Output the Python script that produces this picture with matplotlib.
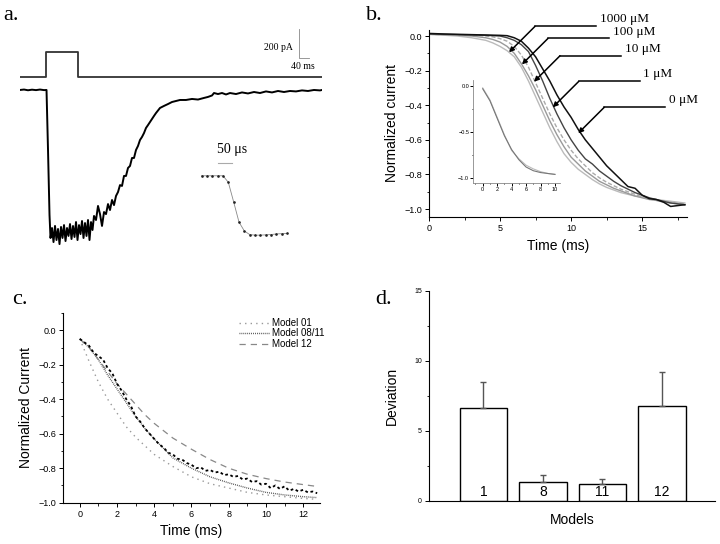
import numpy as np
import matplotlib
matplotlib.use("Agg")
import matplotlib.pyplot as plt
from matplotlib.ticker import MultipleLocator

plt.rcParams['font.family'] = ['Liberation Sans', 'DejaVu Sans']
SERIF = ['Liberation Serif', 'DejaVu Serif']

# ---- panel a: whole-cell current (ms, pA) ----
trace_t = [0, 16, 32, 48, 64, 80, 96, 106, 112, 118, 122, 128, 134, 140, 146, 152, 158, 164,
           170, 176, 182, 188, 194, 200, 206, 212, 218, 224, 230, 236, 242, 248, 254, 260, 266,
           272, 278, 284, 290, 296, 304, 312, 320, 328, 336, 344, 352, 360, 368, 376, 384, 392,
           400, 408, 416, 424, 432, 440, 448, 456, 464, 472, 480, 488, 496, 504, 512, 520, 528,
           536, 544, 560, 576, 592, 608, 624, 640, 664, 688, 712, 736, 752, 768, 776, 792, 808,
           824, 840, 864, 888, 912, 936, 960, 984, 1008, 1032, 1056, 1080, 1104, 1128, 1152,
           1176, 1200, 1208]
trace_i = [0, 3, -2, 2, -1, 3, -1, 0, -414, -863, -1021, -952, -1049, -938, -1035, -959, -1063,
           -945, -1021, -932, -1042, -952, -1007, -925, -1028, -938, -1014, -911, -1035, -932,
           -994, -904, -1021, -918, -1007, -897, -1035, -911, -966, -869, -897, -800, -856, -938,
           -842, -856, -787, -828, -759, -794, -731, -704, -656, -662, -593, -593, -538, -524,
           -469, -469, -414, -386, -345, -324, -297, -262, -242, -221, -200, -179, -159, -124,
           -110, -97, -83, -76, -69, -69, -62, -66, -55, -48, -38, -21, -28, -21, -31, -21, -28,
           -17, -24, -14, -21, -10, -17, -7, -14, -7, -10, -3, -7, 0, -3, 0]
pulse_t = [0, 103, 103, 233, 233, 1208]
pulse_on = [0, 0, 1, 1, 0, 0]

# inset of panel a: onset of solution exchange (us, normalized)
fast_t = [0, 20, 40, 60, 80, 100, 120, 140, 160, 180, 200, 220, 240, 260, 280, 300, 320]
fast_v = [0, 0, 0, 0, 0, -0.11, -0.44, -0.78, -0.93, -0.99, -1.0, -1.0, -0.995, -0.99, -0.98,
          -0.975, -0.97]

# ---- panel b: normalized currents at several concentrations ----
t_b = [0, 1, 2, 3, 4, 4.5, 5, 5.5, 6, 6.5, 7, 7.5, 8, 8.5, 9, 9.5, 10, 10.5, 11, 11.5, 12,
       12.5, 13, 13.5, 14, 14.5, 15, 15.5, 16, 16.5, 17, 17.5, 18]
cur_0 = [0.015, 0.012, 0.01, 0.008, 0.006, 0.005, 0.004, 0.002, -0.01, -0.03, -0.07, -0.12,
         -0.19, -0.26, -0.34, -0.41, -0.47, -0.54, -0.6, -0.65, -0.7, -0.75, -0.79, -0.83,
         -0.87, -0.88, -0.92, -0.94, -0.945, -0.96, -0.985, -0.98, -0.975]
cur_1 = [0.012, 0.01, 0.008, 0.006, 0.004, 0.002, 0.0, -0.01, -0.025, -0.05, -0.09, -0.17,
         -0.26, -0.36, -0.45, -0.53, -0.6, -0.66, -0.71, -0.74, -0.78, -0.81, -0.84, -0.865,
         -0.885, -0.905, -0.92, -0.935, -0.945, -0.955, -0.965, -0.97, -0.975]
cur_10 = [0.01, 0.008, 0.006, 0.004, 0.0, -0.005, -0.015, -0.03, -0.06, -0.11, -0.18, -0.27,
          -0.36, -0.45, -0.53, -0.6, -0.66, -0.71, -0.75, -0.79, -0.82, -0.845, -0.865,
          -0.885, -0.9, -0.915, -0.93, -0.94, -0.95, -0.955, -0.96, -0.965, -0.97]
cur_100 = [0.01, 0.008, 0.005, 0.0, -0.01, -0.02, -0.035, -0.06, -0.1, -0.16, -0.23, -0.31,
           -0.4, -0.49, -0.57, -0.64, -0.7, -0.74, -0.78, -0.81, -0.84, -0.86, -0.88, -0.895,
           -0.91, -0.925, -0.935, -0.945, -0.95, -0.96, -0.965, -0.97, -0.975]
cur_1000 = [0.01, 0.005, 0.0, -0.01, -0.025, -0.04, -0.06, -0.085, -0.12, -0.18, -0.26, -0.35,
            -0.44, -0.53, -0.61, -0.68, -0.73, -0.77, -0.8, -0.83, -0.855, -0.875, -0.89,
            -0.905, -0.915, -0.925, -0.93, -0.94, -0.945, -0.95, -0.955, -0.96, -0.965]
conc_labels = ['1000 \u03bcM', '100 \u03bcM', '10 \u03bcM', '1 \u03bcM', '0 \u03bcM']
arrow_tip = [(5.63, -0.094), (6.54, -0.164), (7.39, -0.264), (8.71, -0.412), (10.5, -0.562)]

t_inset = [0, 1, 2, 3, 4, 5, 6, 7, 8, 9, 10]
inset_a = [-0.02, -0.15, -0.34, -0.53, -0.7, -0.79, -0.86, -0.9, -0.93, -0.95, -0.96]
inset_b = [-0.03, -0.16, -0.35, -0.54, -0.69, -0.8, -0.88, -0.92, -0.94, -0.95, -0.96]

# ---- panel c: model fits ----
t_c = [0, 0.5, 1, 1.5, 2, 2.5, 3, 3.5, 4, 5, 6, 7, 8, 9, 10, 11, 12, 12.7]
model_01 = [-0.05, -0.18, -0.3, -0.4, -0.48, -0.56, -0.62, -0.67, -0.72, -0.79, -0.85, -0.89,
            -0.915, -0.94, -0.955, -0.965, -0.975, -0.98]
model_0811 = [-0.05, -0.1, -0.17, -0.26, -0.34, -0.42, -0.5, -0.57, -0.63, -0.74, -0.8, -0.85,
              -0.885, -0.915, -0.94, -0.955, -0.965, -0.97]
model_12 = [-0.05, -0.1, -0.17, -0.24, -0.31, -0.37, -0.43, -0.49, -0.54, -0.625, -0.69, -0.75,
            -0.8, -0.835, -0.86, -0.88, -0.895, -0.905]
t_data = [0, 0.25, 0.5, 0.75, 1.0, 1.25, 1.5, 1.75, 2.0, 2.25, 2.5, 2.75, 3.0, 3.25, 3.5,
          3.75, 4.0, 4.25, 4.5, 4.75, 5.0, 5.25, 5.5, 5.75, 6.0, 6.25, 6.5, 6.75, 7.0, 7.25,
          7.5, 7.75, 8.0, 8.25, 8.5, 8.75, 9.0, 9.25, 9.5, 9.75, 10.0, 10.25, 10.5, 10.75,
          11.0, 11.25, 11.5, 11.75, 12.0, 12.25, 12.5, 12.75]
data_c = [-0.05, -0.07, -0.09, -0.13, -0.15, -0.17, -0.22, -0.25, -0.31, -0.35, -0.40, -0.44,
          -0.50, -0.53, -0.57, -0.60, -0.63, -0.66, -0.68, -0.71, -0.72, -0.745, -0.75, -0.77,
          -0.78, -0.80, -0.795, -0.815, -0.81, -0.825, -0.82, -0.84, -0.835, -0.85, -0.845,
          -0.865, -0.86, -0.88, -0.875, -0.895, -0.89, -0.915, -0.90, -0.92, -0.905, -0.93,
          -0.92, -0.935, -0.925, -0.94, -0.935, -0.945]

# ---- panel d: deviation per model ----
models = ['1', '8', '11', '12']
deviation = [6.6, 1.36, 1.2, 6.8]
dev_err = [1.9, 0.44, 0.32, 2.4]


def style_axes(ax, size=6.5):
    for s in ['top', 'right']:
        ax.spines[s].set_visible(False)
    for s in ['left', 'bottom']:
        ax.spines[s].set_linewidth(0.8)
    ax.tick_params(which='major', direction='out', length=3, width=0.7, labelsize=size, pad=2)
    ax.tick_params(which='minor', direction='out', length=1.8, width=0.6)


fig = plt.figure(figsize=(7.2, 5.44), dpi=100)

# panel a
ax_a = fig.add_axes([0.0278, 0.5404, 0.4194, 0.4136])
ax_a.axis('off')
ax_a.set_xlim(0, 1208)
ax_a.set_ylim(-1104, 448)
ax_a.plot(trace_t, trace_i, color='black', lw=1.4)
ax_a.plot(pulse_t, 88 + 176 * np.array(pulse_on), color='#333333', lw=1.3)
ax_a.plot([1117, 1117, 1157], [421, 223, 223], color='#888888', lw=0.6)
ax_a.text(1092, 290, '200 pA', ha='right', va='center', fontsize=7, family=SERIF)
ax_a.text(1132, 162, '40 ms', ha='center', va='center', fontsize=7, family=SERIF)

ax_ai = fig.add_axes([0.2708, 0.5588, 0.1319, 0.1838])
ax_ai.axis('off')
ax_ai.set_xlim(-25, 331)
ax_ai.set_ylim(-1.082, 0.602)
ax_ai.plot(fast_t, fast_v, color='#888888', lw=0.6, marker='.', ms=1.8, mfc='#222222',
           mec='#222222')
ax_ai.plot([62, 112], [0.214, 0.214], color='#aaaaaa', lw=0.8)
ax_ai.text(58, 0.45, '50 \u03bcs', ha='left', va='center', fontsize=10, family=SERIF)

# panel b
ax_b = fig.add_axes([0.5958, 0.6011, 0.3583, 0.3438])
style_axes(ax_b)
ax_b.plot(t_b, cur_1000, color='#bbbbbb', lw=1.0)
ax_b.plot(t_b, cur_100, color='#999999', lw=1.0)
ax_b.plot(t_b, cur_10, color='#aaaaaa', lw=1.0, ls=(0, (3, 1.5)))
ax_b.plot(t_b, cur_1, color='#444444', lw=1.0)
ax_b.plot(t_b, cur_0, color='#111111', lw=1.1)
ax_b.set_xlim(0, 18.15)
ax_b.set_ylim(-1.046, 0.035)
ax_b.xaxis.set_major_locator(MultipleLocator(5))
ax_b.xaxis.set_minor_locator(MultipleLocator(2.5))
ax_b.yaxis.set_major_locator(MultipleLocator(0.2))
ax_b.yaxis.set_minor_locator(MultipleLocator(0.1))
ax_b.set_xlabel('Time (ms)', fontsize=10, labelpad=4)
ax_b.set_ylabel('Normalized current', fontsize=10, labelpad=4)
for lab, tip in zip(conc_labels, arrow_tip):
    x0 = tip[0] + 1.83
    y0 = tip[1] + 0.15
    ax_b.annotate('', xy=tip, xytext=(x0, y0),
                  arrowprops=dict(arrowstyle='-|>', color='black', lw=1.1, mutation_scale=7,
                                  shrinkA=0, shrinkB=0))
    ax_b.plot([x0, x0 + 4.3], [y0, y0], color='black', lw=1.1, clip_on=False)
    ax_b.text(x0 + 4.55, y0 + 0.04, lab, fontsize=9.5, family=SERIF, ha='left', va='center')

ax_bi = fig.add_axes([0.6574, 0.6642, 0.1204, 0.1888])
ax_bi.patch.set_alpha(0)
style_axes(ax_bi, size=4)
ax_bi.tick_params(which='major', length=2, pad=1)
ax_bi.tick_params(which='minor', length=1)
ax_bi.plot(t_inset, inset_a, color='#bbbbbb', lw=0.8)
ax_bi.plot(t_inset, inset_b, color='#777777', lw=0.8)
ax_bi.set_xlim(-1.3, 10.7)
ax_bi.set_ylim(-1.05, 0.066)
ax_bi.xaxis.set_major_locator(MultipleLocator(2))
ax_bi.xaxis.set_minor_locator(MultipleLocator(1))
ax_bi.yaxis.set_major_locator(MultipleLocator(0.5))
ax_bi.yaxis.set_minor_locator(MultipleLocator(0.25))
ax_bi.spines['left'].set_linewidth(0.6)
ax_bi.spines['bottom'].set_linewidth(0.6)
ax_bi.spines['left'].set_color('#888888')
ax_bi.spines['bottom'].set_color('#888888')

# panel c
ax_c = fig.add_axes([0.0875, 0.0759, 0.3569, 0.3487])
style_axes(ax_c)
ax_c.plot(t_c, model_01, color='#999999', lw=1.0, ls=(0, (1, 3)), label='Model 01')
ax_c.plot(t_c, model_0811, color='#444444', lw=1.0, ls=(0, (0.6, 0.8)), label='Model 08/11')
ax_c.plot(t_c, model_12, color='#888888', lw=0.9, ls=(0, (5, 4)), label='Model 12')
ax_c.plot(t_data, data_c, color='black', lw=1.3, ls=(0, (1.5, 1.5)))
ax_c.set_xlim(-0.9, 12.9)
ax_c.set_ylim(-1.0, 0.1)
ax_c.xaxis.set_major_locator(MultipleLocator(2))
ax_c.xaxis.set_minor_locator(MultipleLocator(1))
ax_c.yaxis.set_major_locator(MultipleLocator(0.2))
ax_c.yaxis.set_minor_locator(MultipleLocator(0.1))
ax_c.set_xlabel('Time (ms)', fontsize=10, labelpad=4)
ax_c.set_ylabel('Normalized Current', fontsize=10, labelpad=4)
ax_c.legend(loc='upper right', bbox_to_anchor=(324 / 720, 1 - 318 / 544),
            bbox_transform=fig.transFigure, frameon=False, fontsize=7, handlelength=3.0,
            handletextpad=0.3, labelspacing=0.05, borderpad=0, borderaxespad=0)

# panel d
ax_d = fig.add_axes([0.5958, 0.0796, 0.3972, 0.386])
style_axes(ax_d, size=5)
pos = np.arange(1, len(models) + 1)
ax_d.bar(pos, deviation, width=0.8, color='white', edgecolor='black', lw=1.0,
         yerr=[np.zeros(len(dev_err)), dev_err], error_kw=dict(ecolor='#555555', elinewidth=1.0,
                                                               capsize=2.5, capthick=1.0))
for p, m in zip(pos, models):
    ax_d.text(p, 0.64, m, ha='center', va='center', fontsize=10)
ax_d.set_xlim(0.084, 4.89)
ax_d.set_ylim(0, 15)
ax_d.set_xticks([])
ax_d.yaxis.set_major_locator(MultipleLocator(5))
ax_d.yaxis.set_minor_locator(MultipleLocator(2.5))
ax_d.set_xlabel('Models', fontsize=10, labelpad=9)
ax_d.set_ylabel('Deviation', fontsize=10, labelpad=11)

# panel letters
for lab, x, y in [('a.', 3, 20), ('b.', 366, 20), ('c.', 12, 304), ('d.', 375, 304)]:
    fig.text(x / 720, 1 - y / 544, lab, fontsize=16, family=SERIF, va='baseline')

fig.savefig('out.png', dpi=100)
